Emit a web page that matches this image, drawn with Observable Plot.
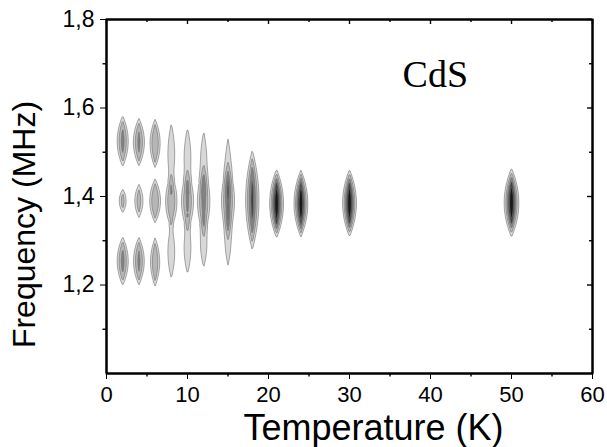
<!DOCTYPE html>
<html><head><meta charset="utf-8">
<script src="https://cdn.jsdelivr.net/npm/d3@7"></script>
<script src="https://cdn.jsdelivr.net/npm/@observablehq/plot@0.6"></script>
<style>html,body{margin:0;padding:0;background:#fff;overflow:hidden}#chart svg{display:block}</style>
</head><body><div id="chart"></div>
<script>
// Spectral peaks
const peakT = [2,2,2, 4,4,4, 6,6,6, 8,8,8, 10,10,10, 12,12,12, 15,15,15, 18, 21, 24, 30, 50];           // temperature (K)
const peakF = [1.525,1.390,1.254, 1.523,1.390,1.254, 1.520,1.390,1.252, 1.495,1.390,1.275,
               1.485,1.390,1.285, 1.475,1.390,1.295, 1.460,1.390,1.305, 1.392, 1.384, 1.384, 1.385, 1.386]; // MHz
const peakA = [0.5,0.3,0.5, 0.48,0.32,0.48, 0.45,0.45,0.42, 0.17,0.45,0.17,
               0.17,0.48,0.17, 0.17,0.52,0.17, 0.17,0.56,0.17, 0.7, 1.0, 1.0, 1.0, 1.0];                  // relative intensity
const peakW = [0.68,0.42,0.68, 0.68,0.5,0.66, 0.62,0.66,0.56, 0.42,0.7,0.42,
               0.42,0.74,0.42, 0.4,0.76,0.4, 0.38,0.8,0.38, 0.82, 0.85, 0.85, 0.85, 0.9];               // outer half-width (K)
const peakH = [0.0575,0.027,0.055, 0.054,0.038,0.054, 0.055,0.05,0.055, 0.07,0.062,0.06,
               0.07,0.07,0.06, 0.072,0.08,0.055, 0.07,0.085,0.06, 0.113, 0.078, 0.076, 0.076, 0.078];    // outer half-height (MHz)

const intensityLevels = [0.1, 0.25, 0.45, 0.65, 0.85];
const levelColors = ["#d8d8d8", "#b6b6b6", "#828282", "#424242", "#181818"];

const xBounds = [0, 60];
const yBounds = [1.0, 1.8];
const xMajor = [0, 10, 20, 30, 40, 50, 60];
const xMinor = [5, 15, 25, 35, 45, 55];
const yMajor = [1.2, 1.4, 1.6, 1.8];
const yMinor = [1.1, 1.3, 1.5, 1.7];

const xTitle = "Temperature (K)";
const yTitle = "Frequency (MHz)";
const sampleLabel = ["CdS"];
const sampleLabelT = [36.55];
const sampleLabelF = [1.676];

const C0 = intensityLevels[0];
function field(x, y) {
  let s = 0;
  for (let i = 0; i < peakT.length; i++) {
    const dx = Math.abs(x - peakT[i]) / peakW[i];
    if (dx > 1.6) continue;
    const dy = (y - peakF[i]) / peakH[i];
    const r = dx + dy * dy;
    if (r > 1.8) continue;
    s += peakA[i] * Math.exp(-Math.log(peakA[i] / C0) * r * r);
  }
  return s;
}

const fmt = d => d.toFixed(1).replace(".", ",");
const sans = "'Liberation Sans', Arial, sans-serif";
const W = 607, H = 447, ML = 106, MR = 15, MT = 19, MB = 74;
const FW = W - ML - MR, FH = H - MT - MB;
const tk = {stroke: "black", strokeWidth: 1.4};

const chart = Plot.plot({
  width: W, height: H,
  marginLeft: ML, marginRight: MR, marginTop: MT, marginBottom: MB,
  x: {domain: xBounds, ticks: xMajor, tickSize: 6, tickFormat: () => "", label: null},
  y: {domain: yBounds, ticks: yMajor, tickSize: 6, tickFormat: () => "", label: null},
  color: {type: "threshold", domain: [0.2, 0.35, 0.55, 0.75], range: levelColors},
  marks: [
    Plot.contour({
      fill: field,
      x1: xBounds[0], x2: xBounds[1], y1: yBounds[0], y2: yBounds[1],
      thresholds: intensityLevels,
      pixelSize: 1,
      stroke: "#707070", strokeWidth: 0.6
    }),
    Plot.frame({stroke: "black", strokeWidth: 2}),
    Plot.ruleX(xBounds, {x: d => d, stroke: "black", strokeWidth: 2}),
    Plot.ruleY(yBounds, {y: d => d, stroke: "black", strokeWidth: 2}),
    // minor outward ticks
    Plot.tickX(xMinor, {x: d => d, insetTop: FH, insetBottom: -3.5, ...tk}),
    Plot.tickY(yMinor, {y: d => d, insetLeft: -3.5, insetRight: FW, ...tk}),
    // top ticks (inward)
    Plot.tickX(xMajor, {x: d => d, insetTop: 0, insetBottom: FH - 5, ...tk}),
    Plot.tickX(xMinor, {x: d => d, insetTop: 0, insetBottom: FH - 3, ...tk}),
    // right ticks (inward)
    Plot.tickY(yMajor, {y: d => d, insetLeft: FW - 5, insetRight: 0, ...tk}),
    Plot.tickY(yMinor, {y: d => d, insetLeft: FW - 3, insetRight: 0, ...tk}),
    // tick labels
    Plot.text(xMajor, {x: d => d, text: d => String(d), frameAnchor: "bottom", dy: 13, lineAnchor: "top", fontSize: 22, fontFamily: sans, fill: "black"}),
    Plot.text(yMajor, {y: d => d, text: fmt, frameAnchor: "left", dx: -12, textAnchor: "end", lineAnchor: "middle", fontSize: 23, fontFamily: sans, fill: "black"}),
    // axis titles
    Plot.text([xTitle], {text: d => d, frameAnchor: "bottom", dx: 24, dy: 55, textAnchor: "middle", lineAnchor: "middle", fontSize: 36, fontFamily: sans, fill: "black"}),
    Plot.text([yTitle], {text: d => d, frameAnchor: "left", rotate: -90, dx: -82, dy: 28, textAnchor: "middle", lineAnchor: "middle", fontSize: 32, fontFamily: sans, fill: "black"}),
    // sample label
    Plot.text(sampleLabel, {x: (d, i) => sampleLabelT[i], y: (d, i) => sampleLabelF[i], text: d => d,
      textAnchor: "start", lineAnchor: "middle", fontSize: 38, fill: "black", fontFamily: "'Liberation Serif', 'Times New Roman', serif"})
  ]
});
document.getElementById("chart").appendChild(chart);
</script>
</body></html>
